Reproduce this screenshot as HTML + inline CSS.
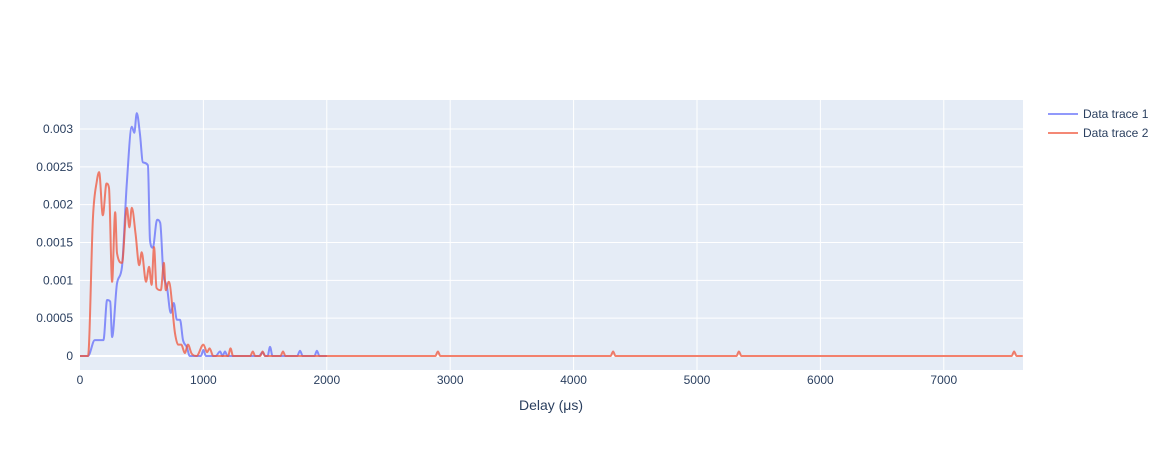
<!DOCTYPE html>
<html><head><meta charset="utf-8">
<style>
body{margin:0;background:#fff;}
svg{display:block;font-family:"Liberation Sans",Arial,sans-serif;}
</style></head>
<body>
<svg id="chart" width="1174" height="450">
  <rect x="80" y="100" width="943" height="270" fill="#e5ecf6"/>
  <g id="grid"></g>
  <g id="ticks" font-size="12" fill="#2a3f5f"></g>
  <g id="series"></g>
  <text x="551" y="410" text-anchor="middle" font-size="14" fill="#2a3f5f">Delay (μs)</text>
  <g>
    <g>
      <line x1="1048" y1="114" x2="1078" y2="114" stroke="#636efa" stroke-opacity="0.7" stroke-width="2"/>
      <text x="1083" y="118" font-size="12" fill="#2a3f5f">Data trace 1</text>
    </g>
    <g>
      <line x1="1048" y1="133" x2="1078" y2="133" stroke="#ef553b" stroke-opacity="0.7" stroke-width="2"/>
      <text x="1083" y="137" font-size="12" fill="#2a3f5f">Data trace 2</text>
    </g>
  </g>
</svg>
<script>
const xTicks = [0,1000,2000,3000,4000,5000,6000,7000];
const yTicks = [0,0.0005,0.001,0.0015,0.002,0.0025,0.003];
const yTickLabels = ["0","0.0005","0.001","0.0015","0.002","0.0025","0.003"];
const trace1X = [0,65,120,190,220,245,260,300,340,380,420,440,460,485,510,550,567,590,625,650,675,705,735,760,785,810,835,865,890,980,1000,1020,1100,1135,1155,1175,1195,1450,1480,1500,1520,1540,1560,1760,1783,1805,1900,1920,1940,2000];
const trace1Y = [0,0,0.00021,0.00021,0.00074,0.00072,0.00025,0.00096,0.00118,0.0023,0.00303,0.00295,0.00321,0.00295,0.00256,0.00252,0.00153,0.00143,0.0018,0.00176,0.0011,0.00091,0.00057,0.0007,0.00048,0.00048,0.00021,0.00012,0,0,0.00008,0,0,0.00006,0,0.00006,0,0,0.00005,0,0,0.00012,0,0,0.00007,0,0,0.00007,0,0];
const trace2X = [0,65,105,135,155,185,215,235,260,285,300,340,380,400,420,450,480,500,535,560,580,600,620,655,680,695,720,770,795,820,850,875,905,945,1000,1030,1050,1080,1200,1220,1240,1380,1400,1420,1460,1480,1500,1625,1645,1665,2880,2900,2920,4300,4320,4340,5320,5340,5360,7550,7570,7590,7640];
const trace2Y = [0,0,0.00184,0.0023,0.00243,0.00186,0.00228,0.00222,0.00098,0.0019,0.00136,0.00123,0.00196,0.0017,0.00196,0.00162,0.0012,0.00137,0.00098,0.00118,0.00094,0.00144,0.0009,0.00087,0.00123,0.00087,0.00098,0.0003,0.00015,0.00015,0.00004,0.00015,0.00003,0,0.00015,0.00005,0.0001,0,0,0.0001,0,0,0.00006,0,0,0.00006,0,0,0.00006,0,0,0.00006,0,0,0.00006,0,0,0.00006,0,0,0.00006,0,0];

const X0=80, X1=1023, XMAX=7642, Y0PX=356, YSCALE=75670;
const xs = v => X0 + v*(X1-X0)/XMAX;
const ys = v => Y0PX - v*YSCALE;
const NS="http://www.w3.org/2000/svg";
const grid=document.getElementById('grid'), ticks=document.getElementById('ticks'), series=document.getElementById('series');

xTicks.forEach(t=>{
  if(t>0){
    const l=document.createElementNS(NS,'line');
    l.setAttribute('x1',xs(t));l.setAttribute('x2',xs(t));l.setAttribute('y1',100);l.setAttribute('y2',370);
    l.setAttribute('stroke','#fff');l.setAttribute('stroke-width',1);
    
    
    grid.appendChild(l);
  }
  const tx=document.createElementNS(NS,'text');
  tx.setAttribute('x',xs(t));tx.setAttribute('y',384);tx.setAttribute('text-anchor','middle');
  tx.textContent=t;
  
  
  ticks.appendChild(tx);
});
yTicks.forEach((t,i)=>{
  const l=document.createElementNS(NS,'line');
  l.setAttribute('x1',80);l.setAttribute('x2',1023);l.setAttribute('y1',ys(t));l.setAttribute('y2',ys(t));
  l.setAttribute('stroke','#fff');l.setAttribute('stroke-width',t===0?2:1);
  
  
  grid.appendChild(l);
  const tx=document.createElementNS(NS,'text');
  tx.setAttribute('x',73);tx.setAttribute('y',ys(t)+4);tx.setAttribute('text-anchor','end');
  tx.textContent=yTickLabels[i];
  
  
  ticks.appendChild(tx);
});
function drawLine(X,Y,color,name){
  const px=X.map(xs), py=Y.map(ys), n=px.length;
  const dl=[], m=[];
  for(let i=0;i<n-1;i++){ const h=px[i+1]-px[i]; dl.push(h>0?(py[i+1]-py[i])/h:0); }
  for(let i=0;i<n;i++){
    if(i===0) m.push(dl[0]); else if(i===n-1) m.push(dl[n-2]);
    else m.push(dl[i-1]*dl[i]<=0?0:(dl[i-1]+dl[i])/2);
  }
  for(let i=0;i<n-1;i++){
    if(dl[i]===0){m[i]=0;m[i+1]=0;continue;}
    const a=m[i]/dl[i], b=m[i+1]/dl[i], s=a*a+b*b;
    if(s>9){const t=3/Math.sqrt(s); m[i]=t*a*dl[i]; m[i+1]=t*b*dl[i];}
  }
  let d='M'+px[0].toFixed(1)+','+py[0].toFixed(1);
  for(let i=0;i<n-1;i++){
    const h=(px[i+1]-px[i])/3;
    d+=' C'+(px[i]+h).toFixed(1)+','+(py[i]+m[i]*h).toFixed(1)+' '+(px[i+1]-h).toFixed(1)+','+(py[i+1]-m[i+1]*h).toFixed(1)+' '+px[i+1].toFixed(1)+','+py[i+1].toFixed(1);
  }
  const p=document.createElementNS(NS,'path');
  p.setAttribute('d',d);
  p.setAttribute('fill','none');p.setAttribute('stroke',color);p.setAttribute('stroke-opacity','0.75');
  p.setAttribute('stroke-width','2');p.setAttribute('stroke-linejoin','round');
  
  
  series.appendChild(p);
}
drawLine(trace1X,trace1Y,'#636efa','trace-1-line');
drawLine(trace2X,trace2Y,'#ef553b','trace-2-line');
</script>
</body></html>
